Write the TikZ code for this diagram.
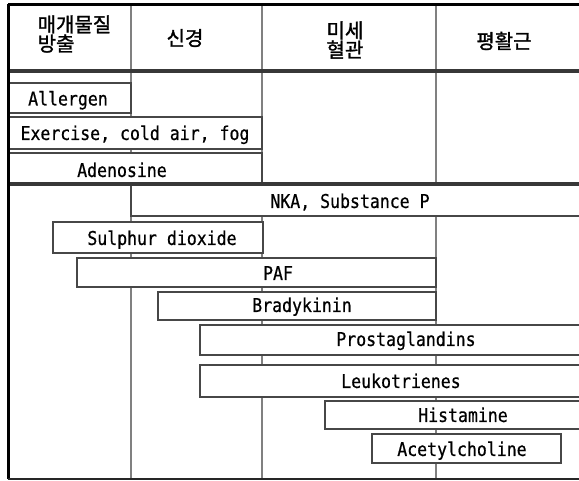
\documentclass[tikz,border=0pt]{standalone}
\usepackage{fontspec}
\usetikzlibrary{fit}
\newfontfamily\monofont[FakeStretch=0.87,FakeBold=0.6]{DejaVu Sans Mono}
\newfontfamily\krfont[FakeBold=1.4]{Noto Sans CJK KR}
\tikzset{
  box/.style={draw=black!72, line width=1.3pt, fill=white, rectangle, inner sep=0pt},
  lbl/.style={font=\monofont\fontsize{19}{20}\selectfont, inner sep=0pt, text height=13.9pt, text depth=0pt},
  head/.style={font=\krfont\fontsize{20}{15.5}\selectfont, inner sep=0pt, align=left},
  divider/.style={draw=black!50, line width=1.4pt},
  rulethick/.style={draw=black!78, line width=4pt},
  frame/.style={draw=black, line width=3pt},
}
\begin{document}
\begin{tikzpicture}[x=1pt,y=-1pt]
\useasboundingbox (0,0) rectangle (579,480);
\clip (0,0) rectangle (579,480);
\fill[white] (0,0) rectangle (579,480);
% corner coordinates
\coordinate (tl) at (8,4);
\coordinate (tr) at (590,4);
\coordinate (bl) at (8,479);
\coordinate (br) at (590,479);
\coordinate (d1t) at (131,4);  \coordinate (d1b) at (131,479);
\coordinate (d2t) at (262,4);  \coordinate (d2b) at (262,479);
\coordinate (d3t) at (436,4);  \coordinate (d3b) at (436,479);
\coordinate (r1l) at (8,71);   \coordinate (r1r) at (590,71);
\coordinate (r2l) at (8,184);  \coordinate (r2r) at (590,184);
% column dividers
\draw[divider] (d1t) -- (d1b);
\draw[divider] (d2t) -- (d2b);
\draw[divider] (d3t) -- (d3b);
% header text
\node[head] (h1) at (74.5,34) {매개물질\\방출};
\node[head] (h2) at (185,38) {신경};
\node[head] (h3) at (345,40) {미세\\혈관};
\node[head] (h4) at (504,41) {평활근};
% boxes
\node[box, fit={(8,83) (131,113)}] (bAll) {};
\node[box, fit={(8,117) (262,149)}] (bExe) {};
\node[box, fit={(8,153) (262,184)}] (bAde) {};
\node[box, fit={(131,184) (600,216)}] (bNKA) {};
\node[box, fit={(53,222) (263,253)}] (bSul) {};
\node[box, fit={(77,258) (436,287)}] (bPAF) {};
\node[box, fit={(158,292) (436,320)}] (bBra) {};
\node[box, fit={(200,325) (600,355)}] (bPro) {};
\node[box, fit={(200,365) (600,397)}] (bLeu) {};
\node[box, fit={(325,401) (600,429)}] (bHis) {};
\node[box, fit={(372,434) (561,463)}] (bAce) {};
% thick rules
\draw[rulethick] (r1l) -- (r1r);
\draw[rulethick] (r2l) -- (r2r);
% frame
\draw[frame] (tl) -- (tr);
\draw[frame] (tl) -- (bl);
\draw[draw=black!85, line width=2.2pt] (bl) -- (br);
% labels
\node[lbl] (tAll) at (68,98.5) {Allergen};
\node[lbl] (tExe) at (135,133) {Exercise, cold air, fog};
\node[lbl] (tAde) at (122,170) {Adenosine};
\node[lbl] (tNKA) at (350,201) {NKA, Substance P};
\node[lbl] (tSul) at (162,238) {Sulphur dioxide};
\node[lbl] (tPAF) at (278,273) {PAF};
\node[lbl] (tBra) at (302,305) {Bradykinin};
\node[lbl] (tPro) at (406,339) {Prostaglandins};
\node[lbl] (tLeu) at (401,381) {Leukotrienes};
\node[lbl] (tHis) at (463,415) {Histamine};
\node[lbl] (tAce) at (462,449) {Acetylcholine};
\end{tikzpicture}
\end{document}
